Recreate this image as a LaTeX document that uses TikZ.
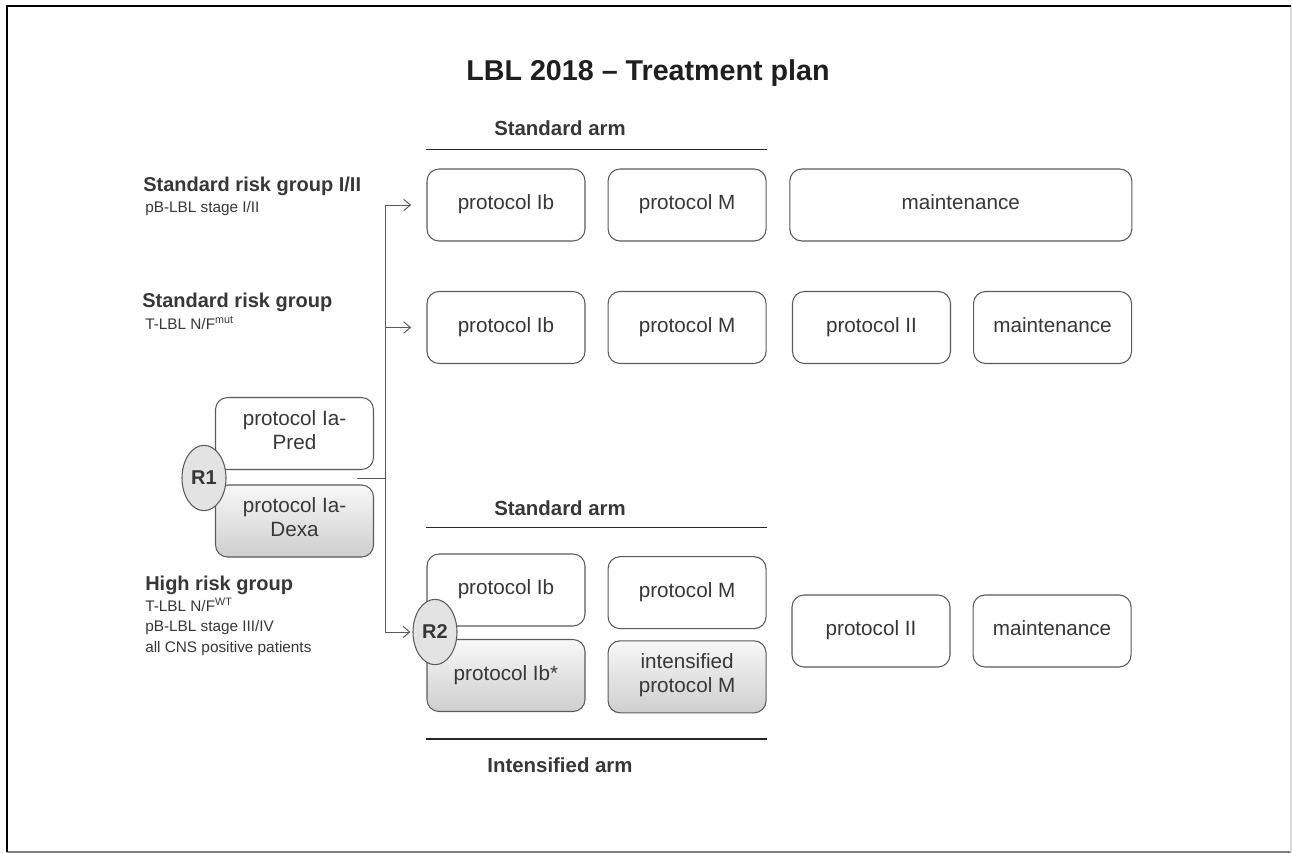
\documentclass[tikz,border=0pt]{standalone}
\usepackage{fontspec}
\setmainfont{Liberation Sans}
\usetikzlibrary{arrows.meta,positioning,shapes.geometric}
\definecolor{txtgrey}{RGB}{55,55,55}
\definecolor{linegrey}{RGB}{90,90,90}
\tikzset{
    %Define standard arrow tip
    >={Straight Barb[length=5pt,width=8.5pt]},
    %Define style for protocol boxes
    protbox/.style={
           rectangle,
           rounded corners=9pt,
           draw=linegrey, line width=0.8pt,
           minimum width=118.5pt,
           minimum height=54pt,
           font=\fontsize{15.5}{18}\selectfont,
           execute at begin node=\strut,
           text=txtgrey,
           align=center,
           fill=white},
    %Define style for shaded boxes
    protshade/.style={
           protbox,
           top color=gray!6,
           bottom color=gray!38},
    %Define style for randomisation
    randnode/.style={
           ellipse,
           draw=linegrey, line width=0.8pt,
           fill=gray!22,
           minimum width=33pt,
           minimum height=49pt,
           inner sep=0pt,
           font=\bfseries\fontsize{15}{18}\selectfont,
           text=txtgrey},
    %Define style for labels
    grouplbl/.style={
           anchor=west,
           inner sep=0pt,
           font=\bfseries\fontsize{15}{18}\selectfont,
           text=txtgrey},
    sublbl/.style={
           anchor=west,
           inner sep=0pt,
           font=\fontsize{11.5}{15.4}\selectfont,
           text=txtgrey},
    armlbl/.style={
           font=\bfseries\fontsize{15.3}{18}\selectfont,
           text=txtgrey},
    % Define line styles
    armline/.style={
           line width=1.2pt,
           draw=black!85},
    pil/.style={
           ->,
           line width=0.75pt,
           draw=linegrey}
}

\begin{document}
\begin{tikzpicture}[x=0.75pt,y=-0.75pt,node distance=16.5pt]
\useasboundingbox (0,0) rectangle (1292,853);
 %frame
\draw[line width=1.2pt, gray] (7,852) -- (1291,852);
\draw[line width=1pt, gray!30] (1291,852) -- (1291,6);
\draw[line width=2.2pt, black] (7,852) -- (7,6) -- (1291,6);
 %title
\node[font=\bfseries\fontsize{21.5}{25}\selectfont, text=black!88] (title) at (648,73) {LBL 2018 -- Treatment plan};
 %left labels
\node[grouplbl] (srisk1) at (143,186) {Standard risk group I/II};
\node[sublbl] (srisk1sub) at (145,209) {pB-LBL stage I/II};
\node[grouplbl] (srisk2) at (142,302) {Standard risk group};
\node[sublbl] (srisk2sub) at (145,323) {T-LBL N/F\textsuperscript{mut}};
\node[grouplbl] (hrisk) at (145,585) {High risk group};
\node[sublbl, anchor=north west, align=left] (hrisksub) at (145,598)
   {T-LBL N/F\textsuperscript{WT}\\pB-LBL stage III/IV\\all CNS positive patients};
 %standard risk I/II
\node[protbox] (sIb) at (506,205) {protocol Ib};
\node[protbox, right=of sIb] (sM) {protocol M};
\node[protbox, right=17pt of sM, minimum width=256.5pt] (sMaint) {maintenance};
 %standard risk
\node[protbox] (tIb) at (506,327.5) {protocol Ib};
\node[protbox, right=of tIb] (tM) {protocol M};
\node[protbox, right=19pt of tM] (tII) {protocol II};
\node[protbox, right=of tII] (tMaint) {maintenance};
 %R1
\node[protbox] (IaPred) at (294.5,433.5) {protocol Ia-\\Pred};
\node[protshade] (IaDexa) at (294.5,521) {protocol Ia-\\Dexa};
\node[randnode] (R1) at (204,478) {R1};
 %high risk
\node[protbox] (hIb) at (506,590) {protocol Ib};
\node[protbox, right=of hIb, yshift=-2pt] (hM) {protocol M};
\node[protshade] (hIbstar) at (506,675.5) {protocol Ib*};
\node[protshade, right=of hIbstar, yshift=-1pt] (hMint) {intensified\\protocol M};
\node[protbox] (hII) at (871,631) {protocol II};
\node[protbox, right=of hII] (hMaint) {maintenance};
\node[randnode] (R2) at (435,632) {R2};
 %arms
\draw[armline] ([yshift=14.25pt]sIb.north west) -- ([yshift=14.25pt]sM.north east);
\node[armlbl] (armtop) at (560,128) {Standard arm};
\draw[armline] ([yshift=19.5pt]hIb.north west) -- ([yshift=19.5pt]hIb.north west -| hM.east);
\node[armlbl] (armmid) at (560,508) {Standard arm};
\draw[armline] ([yshift=-20pt]hIbstar.south west) -- ([yshift=-20pt]hIbstar.south west -| hMint.east);
\node[armlbl] (armbot) at (560,765) {Intensified arm};
 %connectors
\coordinate (r1out) at (357,478);
\coordinate (split) at (385,478);
\draw[line width=0.75pt, linegrey] (r1out) -- (split);
\draw[pil, shorten >=11.5pt] (split) |- (sIb.west);
\draw[pil, shorten >=11.5pt] (split) |- (tIb.west);
\draw[pil, shorten >=1.5pt] (split) |- (R2.west);
\end{tikzpicture}
\end{document}
